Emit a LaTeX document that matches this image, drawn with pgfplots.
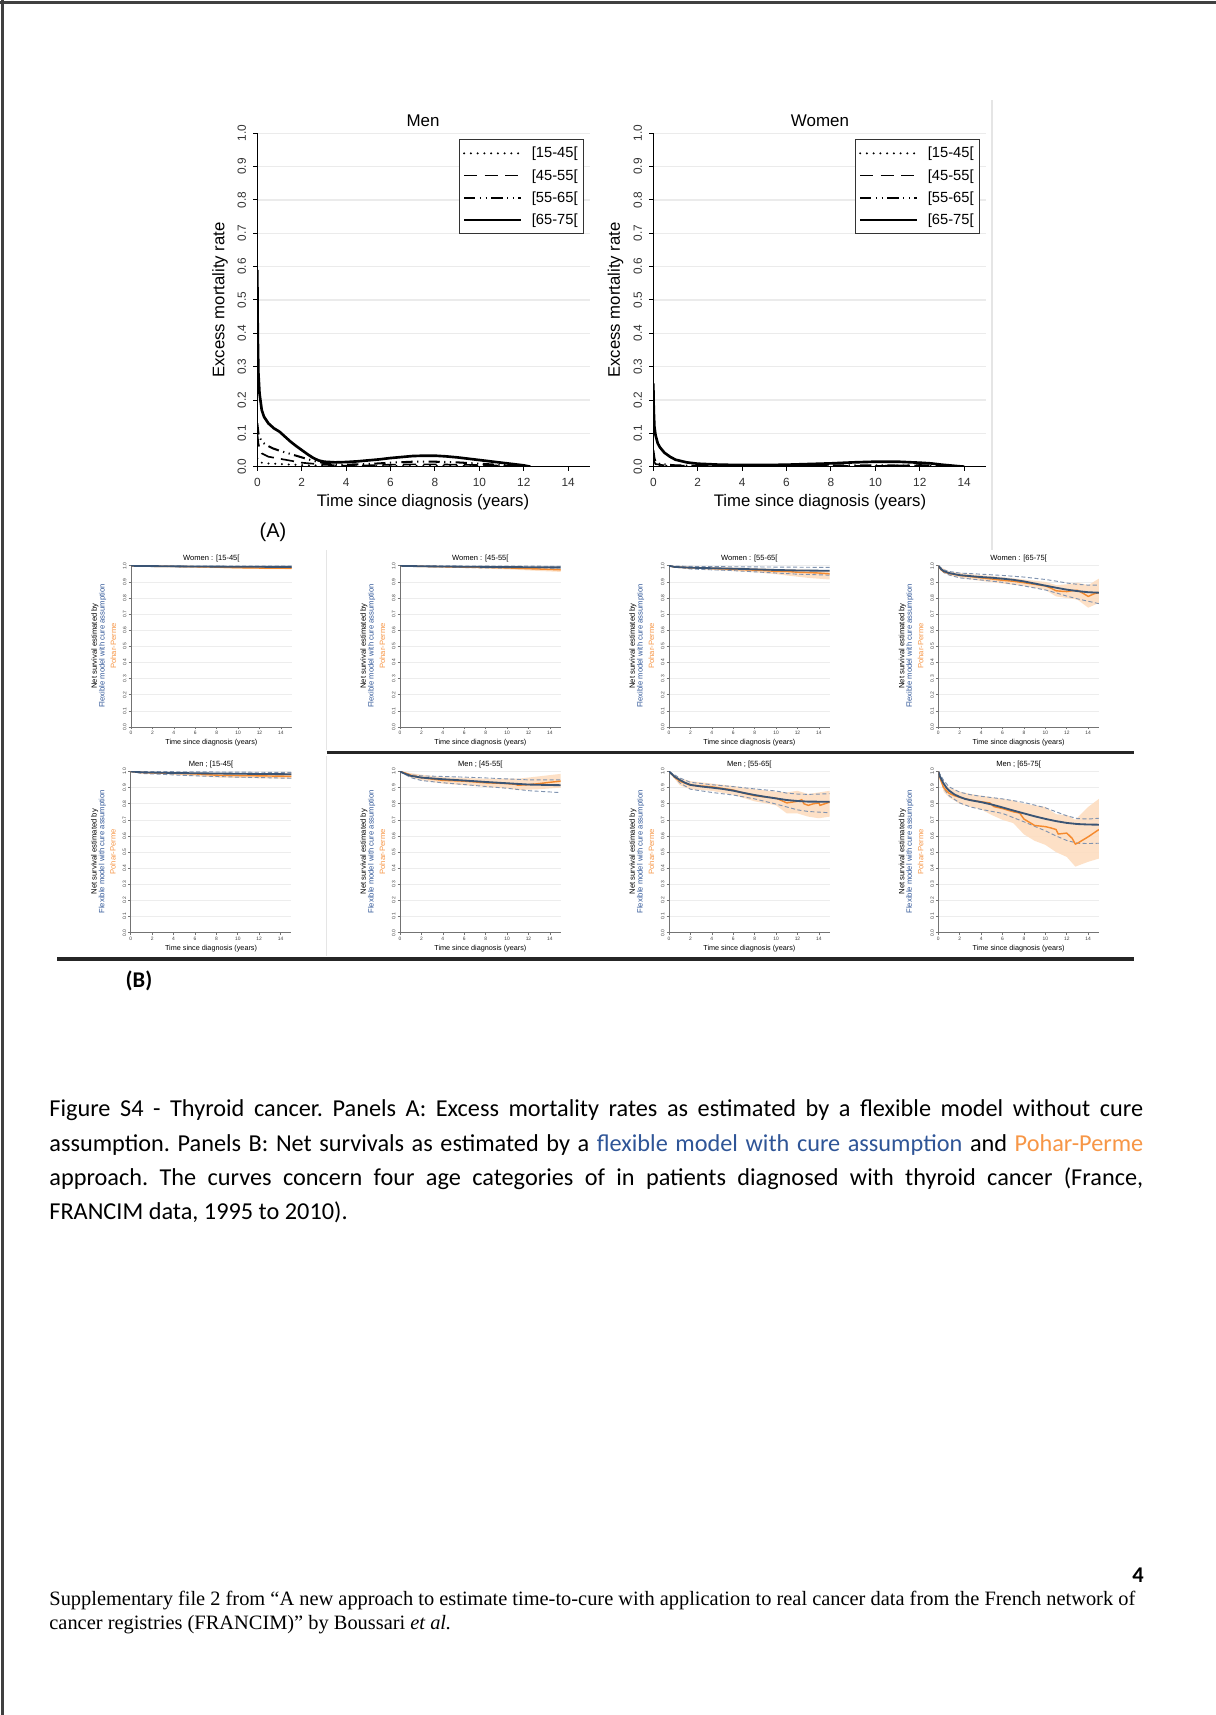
\documentclass[border=0pt]{standalone}
\usepackage{pgfplots}
\pgfplotsset{compat=1.18}
\usepackage{fontspec}
\setmainfont{Carlito}
\newfontfamily\arial{Liberation Sans}
\newfontfamily\tnr{Liberation Serif}
\definecolor{blueL}{HTML}{2F5597}
\definecolor{orangeL}{HTML}{F79646}
\definecolor{pblue}{HTML}{3A5474}
\definecolor{pci}{HTML}{7F93B0}
\definecolor{porange}{HTML}{F58A2E}
\definecolor{pband}{HTML}{FDDDC0}
\newcommand{\fs}[1]{\fontsize{#1}{#1}\selectfont}
\pgfplotsset{
 bigax/.style={scale only axis, width=163.2pt, height=163.4pt,
  xmin=0, xmax=15, ymin=0, ymax=1, no markers,
  axis x line*=bottom, axis y line*=left,
  axis line style={black, line width=0.6pt},
  xtick={0,2,4,6,8,10,12,14},
  ytick={0,0.1,0.2,0.3,0.4,0.5,0.6,0.7,0.8,0.9,1.0},
  ymajorgrids, grid style={black!8, line width=0.6pt},
  tick style={black, line width=0.5pt}, major tick length=2pt, tick align=outside,
  /pgf/number format/assume math mode=true,
  tick label style={font=\arial\fs{5.8}, text=black!80},
  yticklabel style={rotate=90, anchor=south, /pgf/number format/.cd, fixed, fixed zerofill, precision=1},
  legend style={at={(1,1)}, anchor=north east, xshift=-3pt, yshift=-2.8pt,
   draw=black!80, line width=0.5pt, font=\arial\fs{7.2},
   row sep=0.3pt, column sep=3pt, inner sep=1.5pt,
   nodes={inner sep=1.5pt, text height=6pt, text depth=1.6pt}},
  legend cell align=left,
  legend image code/.code={\draw[#1] (0pt,0pt) -- (28pt,0pt);},
 },
 sdot/.style={black, line width=1.1pt, line cap=round, dash pattern=on 0pt off 3.3pt},
 sdash/.style={black, line width=0.8pt, dash pattern=on 6.5pt off 3.5pt},
 sdd/.style={black, line width=1pt, dash pattern=on 5.5pt off 2.2pt on 0.6pt off 2.2pt on 0.6pt off 2.2pt},
 ssol/.style={black, line width=1.3pt},
 smallax/.style={scale only axis, width=78.7pt, height=79pt,
  xmin=0, xmax=15, ymin=0, ymax=1, no markers,
  axis x line*=bottom, axis y line*=left,
  axis line style={black!55, line width=0.35pt},
  xtick={0,2,4,6,8,10,12,14},
  ytick={0,0.1,0.2,0.3,0.4,0.5,0.6,0.7,0.8,0.9,1.0},
  ymajorgrids, grid style={black!7, line width=0.3pt},
  tick style={black!55, line width=0.3pt}, major tick length=1.2pt, tick align=outside,
  /pgf/number format/assume math mode=true,
  tick label style={font=\arial\fs{2.4}, text=black!75, inner sep=0.8pt},
  yticklabel style={rotate=90, anchor=south, /pgf/number format/.cd, fixed, fixed zerofill, precision=1},
 },
 band/.style={fill=pband, draw=none, fill opacity=0.9},
 cil/.style={pci, line width=0.45pt, dash pattern=on 2pt off 1.2pt},
 bl/.style={pblue, line width=0.9pt},
 ol/.style={porange, line width=0.7pt},
}
\newcommand{\smalllabels}[3]{%
 \node[font=\arial\fs{3.7}] at (#1+80.35,#2-168.5) {#3};
 \node[font=\arial\fs{3.55}] at (#1+80.35,#2+15.7) {Time since diagnosis (years)};
 \node[rotate=90, font=\arial\fs{3.75}, text=black] at (#1-36,#2-81) {Net survival estimated by};
 \node[rotate=90, font=\arial\fs{3.75}, text=blueL] at (#1-28.3,#2-81) {Flexible model with cure assumption};
 \node[rotate=90, font=\arial\fs{3.75}, text=orangeL] at (#1-17.7,#2-81) {Pohar-Perme};
}
\begin{document}
\begin{tikzpicture}[x=0.49pt, y=-0.49pt]
\fill[white] (0,0) rectangle (1216,1715);
\path[use as bounding box] (0,0) rectangle (1216,1715);
\draw[black!75, line width=1pt] (2.5,0) -- (2.5,1715);
\draw[black!75, line width=1pt] (0,2.5) -- (1216,2.5);
\draw[black!10, line width=0.6pt] (992,100) -- (992,550);
\coordinate (am) at (257.3,466.7);
\coordinate (aw) at (653.3,466.7);
\coordinate (p1) at (131,727);
\coordinate (p2) at (400,727);
\coordinate (p3) at (669,727);
\coordinate (p4) at (938.3,727);
\coordinate (p5) at (130.7,932.7);
\coordinate (p6) at (400,932.7);
\coordinate (p7) at (669,932.7);
\coordinate (p8) at (938.3,932.7);

% ---------- Panel A: Men
\begin{axis}[bigax, at={(am)}, anchor=south west]
\addplot[sdot] coordinates {(0,0.025) (0.1,0.014) (0.3,0.01) (1,0.008) (2,0.005) (3,0.003) (4,0.002) (6,0.002) (8,0.003) (10,0.003) (12,0.001) (12.3,0)};
\addlegendentry{[15-45[}
\addplot[sdash] coordinates {(0,0.1) (0.05,0.07) (0.1,0.055) (0.2,0.04) (0.5,0.03) (1,0.024) (1.5,0.018) (2,0.012) (3,0.006) (4,0.003) (5,0.004) (6,0.006) (7,0.007) (8,0.007) (9,0.006) (10,0.005) (11,0.003) (12,0.001) (12.3,0)};
\addlegendentry{[45-55[}
\addplot[sdd] coordinates {(0,0.13) (0.05,0.1) (0.1,0.09) (0.2,0.075) (0.4,0.065) (0.7,0.055) (1,0.048) (1.5,0.038) (2,0.028) (2.5,0.018) (3,0.011) (3.5,0.007) (4,0.006) (5,0.008) (6,0.012) (7,0.015) (8,0.015) (9,0.013) (10,0.009) (11,0.005) (12,0.001) (12.3,0)};
\addlegendentry{[55-65[}
\addplot[ssol] coordinates {(0,0.59) (0.02,0.40) (0.05,0.28) (0.1,0.22) (0.2,0.17) (0.3,0.15) (0.5,0.13) (0.75,0.115) (1,0.105) (1.25,0.09) (1.5,0.075) (1.75,0.062) (2,0.05) (2.25,0.038) (2.5,0.027) (2.75,0.019) (3,0.015) (3.5,0.013) (4,0.014) (4.5,0.016) (5,0.019) (5.5,0.022) (6,0.026) (6.5,0.029) (7,0.032) (7.5,0.033) (8,0.033) (8.5,0.031) (9,0.028) (9.5,0.024) (10,0.02) (10.5,0.016) (11,0.012) (11.5,0.008) (12,0.004) (12.3,0)};
\addlegendentry{[65-75[}
\end{axis}

% ---------- Panel A: Women
\begin{axis}[bigax, at={(aw)}, anchor=south west]
\addplot[sdot] coordinates {(0,0.008) (0.2,0.003) (1,0.002) (6,0.001) (14,0)};
\addlegendentry{[15-45[}
\addplot[sdash] coordinates {(0,0.02) (0.1,0.008) (0.5,0.004) (2,0.002) (6,0.002) (10,0.002) (12,0.005) (13,0.004) (14,0)};
\addlegendentry{[45-55[}
\addplot[sdd] coordinates {(0,0.05) (0.05,0.025) (0.1,0.015) (0.3,0.008) (1,0.004) (2,0.003) (4,0.003) (6,0.004) (8,0.004) (10,0.004) (12,0.003) (14,0)};
\addlegendentry{[55-65[}
\addplot[ssol] coordinates {(0,0.25) (0.02,0.17) (0.05,0.12) (0.1,0.095) (0.2,0.07) (0.3,0.058) (0.5,0.042) (0.75,0.03) (1,0.021) (1.5,0.013) (2,0.009) (3,0.006) (4,0.005) (5,0.005) (6,0.006) (7,0.008) (8,0.01) (9,0.013) (10,0.015) (11,0.015) (12,0.012) (12.5,0.01) (13,0.006) (13.5,0.003) (14,0)};
\addlegendentry{[65-75[}
\end{axis}

\node[font=\arial\fs{8.3}] at (423,120.7) {Men};
\node[font=\arial\fs{8.3}] at (820,120.7) {Women};
\node[font=\arial\fs{8.2}, rotate=90] at (220,300) {Excess mortality rate};
\node[font=\arial\fs{8.2}, rotate=90] at (615.5,300) {Excess mortality rate};
\node[font=\arial\fs{8.2}] at (423,501.7) {Time since diagnosis (years)};
\node[font=\arial\fs{8.2}] at (820,501.7) {Time since diagnosis (years)};
\node[font=\arial\fs{9.8}] at (273,532) {(A)};

% ---------- Panel B, row 1 (women)
\begin{axis}[smallax, at={(p1)}, anchor=south west]
\addplot[band] coordinates {(0,1) (5,0.999) (10,0.995) (15,0.993) (15,0.978) (10,0.982) (5,0.99) (0,1)} --cycle;
\addplot[cil] coordinates {(0,1) (5,0.999) (10,0.998) (15,0.998)};
\addplot[cil] coordinates {(0,1) (5,0.993) (10,0.99) (15,0.988)};
\addplot[ol] coordinates {(0,1) (2,0.997) (5,0.995) (8,0.992) (10,0.988) (12,0.986) (15,0.985)};
\addplot[bl] coordinates {(0,1) (2,0.998) (5,0.996) (10,0.994) (15,0.993)};
\end{axis}
\begin{axis}[smallax, at={(p2)}, anchor=south west]
\addplot[band] coordinates {(0,1) (5,0.998) (10,0.994) (12,0.99) (15,0.988) (15,0.962) (13,0.968) (10,0.978) (5,0.988) (0,1)} --cycle;
\addplot[cil] coordinates {(0,1) (5,0.999) (10,0.998) (15,0.997)};
\addplot[cil] coordinates {(0,1) (5,0.99) (10,0.985) (15,0.98)};
\addplot[ol] coordinates {(0,1) (2,0.996) (5,0.993) (8,0.99) (10,0.987) (12,0.982) (13,0.98) (15,0.975)};
\addplot[bl] coordinates {(0,1) (2,0.997) (5,0.995) (10,0.992) (15,0.99)};
\end{axis}
\begin{axis}[smallax, at={(p3)}, anchor=south west]
\addplot[band] coordinates {(0,1) (4,0.992) (8,0.985) (10,0.98) (12,0.978) (15,0.972) (15,0.915) (13,0.925) (11,0.94) (10,0.948) (8,0.96) (4,0.975) (0,1)} --cycle;
\addplot[cil] coordinates {(0,1) (2,0.996) (6,0.994) (10,0.992) (15,0.99)};
\addplot[cil] coordinates {(0,1) (2,0.98) (6,0.97) (10,0.955) (12,0.948) (15,0.942)};
\addplot[ol] coordinates {(0,1) (0.5,0.992) (2,0.987) (4,0.983) (6,0.978) (8,0.973) (9,0.97) (10,0.965) (11,0.965) (12,0.96) (13,0.958) (14,0.955) (15,0.95)};
\addplot[bl] coordinates {(0,1) (0.5,0.993) (2,0.988) (4,0.985) (6,0.982) (8,0.978) (10,0.974) (12,0.971) (15,0.969)};
\end{axis}
\begin{axis}[smallax, at={(p4)}, anchor=south west]
\addplot[band] coordinates {(0,1) (1,0.965) (3,0.948) (6,0.93) (8,0.915) (10,0.9) (11,0.88) (12,0.885) (13,0.895) (14,0.88) (15,0.92) (15,0.77) (14,0.74) (13,0.79) (12,0.8) (11,0.81) (10,0.85) (8,0.875) (6,0.89) (3,0.915) (1,0.94) (0,1)} --cycle;
\addplot[cil] coordinates {(0,1) (0.5,0.975) (1,0.965) (2,0.955) (4,0.948) (6,0.94) (8,0.93) (10,0.915) (11,0.905) (12,0.893) (13,0.885) (14,0.88) (15,0.88)};
\addplot[cil] coordinates {(0,1) (0.5,0.958) (1,0.943) (2,0.925) (4,0.912) (6,0.897) (8,0.875) (10,0.85) (11,0.832) (12,0.812) (13,0.795) (14,0.78) (15,0.765)};
\addplot[ol] coordinates {(0,1) (0.25,0.975) (0.5,0.963) (1,0.952) (2,0.94) (3,0.933) (4,0.925) (5,0.918) (6,0.91) (7,0.904) (8,0.895) (9,0.885) (10,0.875) (10.5,0.862) (11,0.845) (11.5,0.842) (12,0.84) (12.5,0.845) (13,0.848) (13.5,0.83) (14,0.81) (14.5,0.825) (15,0.835)};
\addplot[bl] coordinates {(0,1) (0.25,0.98) (0.5,0.967) (1,0.955) (2,0.942) (3,0.936) (4,0.93) (5,0.926) (6,0.92) (7,0.913) (8,0.903) (9,0.89) (10,0.877) (11,0.864) (12,0.852) (13,0.843) (14,0.836) (15,0.833)};
\end{axis}

% ---------- Panel B, row 2 (men)
\begin{axis}[smallax, at={(p5)}, anchor=south west]
\addplot[band] coordinates {(0,1) (4,0.997) (8,0.99) (12,0.99) (15,0.994) (15,0.955) (12,0.958) (8,0.963) (4,0.98) (0,1)} --cycle;
\addplot[cil] coordinates {(0,1) (3,0.999) (6,0.998) (10,0.996) (15,0.994)};
\addplot[cil] coordinates {(0,1) (1,0.988) (3,0.982) (6,0.973) (10,0.965) (15,0.958)};
\addplot[ol] coordinates {(0,1) (1,0.993) (3,0.99) (6,0.985) (8,0.977) (10,0.975) (12,0.973) (14,0.971) (15,0.97)};
\addplot[bl] coordinates {(0,1) (1,0.995) (3,0.992) (6,0.989) (10,0.986) (15,0.983)};
\end{axis}
\begin{axis}[smallax, at={(p6)}, anchor=south west]
\addplot[band] coordinates {(0,1) (1,0.99) (2,0.98) (4,0.965) (6,0.96) (8,0.955) (10,0.955) (11,0.955) (13,0.97) (15,0.985) (15,0.9) (13,0.89) (11,0.885) (10,0.895) (8,0.905) (6,0.915) (4,0.925) (2,0.945) (1,0.962) (0,1)} --cycle;
\addplot[cil] coordinates {(0,1) (1,0.98) (2,0.973) (4,0.969) (6,0.965) (8,0.96) (10,0.954) (12,0.948) (15,0.948)};
\addplot[cil] coordinates {(0,1) (1,0.962) (2,0.944) (4,0.93) (6,0.919) (8,0.907) (10,0.896) (12,0.881) (15,0.869)};
\addplot[ol] coordinates {(0,1) (0.5,0.99) (1,0.977) (2,0.962) (3,0.953) (4,0.945) (6,0.94) (7,0.935) (8,0.93) (10,0.925) (10.8,0.92) (11,0.915) (12,0.918) (13,0.925) (14,0.933) (15,0.94)};
\addplot[bl] coordinates {(0,1) (0.5,0.985) (1,0.973) (2,0.962) (3,0.957) (4,0.952) (6,0.944) (8,0.935) (10,0.927) (12,0.919) (14,0.916) (15,0.915)};
\end{axis}
\begin{axis}[smallax, at={(p7)}, anchor=south west]
\addplot[band] coordinates {(0,1) (1,0.96) (2,0.94) (4,0.925) (6,0.91) (8,0.89) (10,0.875) (11,0.87) (12,0.88) (13,0.86) (14,0.87) (15,0.88) (15,0.72) (14,0.71) (13,0.72) (12,0.74) (11,0.74) (10,0.79) (8,0.815) (6,0.855) (4,0.88) (2,0.89) (1,0.915) (0,1)} --cycle;
\addplot[cil] coordinates {(0,1) (1,0.96) (2,0.933) (4,0.918) (6,0.906) (8,0.892) (10,0.879) (11,0.866) (12,0.86) (13,0.858) (15,0.862)};
\addplot[cil] coordinates {(0,1) (1,0.93) (2,0.89) (4,0.87) (6,0.854) (8,0.83) (10,0.798) (11,0.78) (12,0.762) (13,0.752) (15,0.744)};
\addplot[ol] coordinates {(0,1) (0.5,0.965) (1,0.94) (2,0.915) (3,0.91) (4,0.905) (5,0.895) (6,0.885) (7,0.865) (8,0.85) (9,0.842) (10,0.835) (10.5,0.82) (11,0.805) (11.5,0.81) (12,0.815) (12.4,0.825) (12.6,0.8) (13,0.79) (13.5,0.8) (14,0.805) (14.1,0.79) (15,0.81)};
\addplot[bl] coordinates {(0,1) (0.25,0.985) (0.5,0.969) (1,0.948) (1.5,0.93) (2,0.917) (3,0.907) (4,0.9) (5,0.892) (6,0.881) (7,0.867) (8,0.854) (9,0.843) (10,0.833) (11,0.823) (12,0.817) (13,0.813) (15,0.8125)};
\end{axis}
\begin{axis}[smallax, at={(p8)}, anchor=south west]
\addplot[band] coordinates {(0,1) (0.5,0.93) (1,0.9) (2,0.875) (3,0.86) (4,0.85) (5,0.84) (6,0.83) (7,0.82) (8,0.8) (9,0.79) (10,0.78) (11,0.735) (12,0.73) (12.8,0.7) (14,0.78) (15,0.83) (15,0.46) (14,0.44) (12.8,0.41) (12,0.47) (11,0.5) (10,0.545) (9,0.57) (8,0.61) (7,0.68) (6,0.7) (5,0.73) (4,0.765) (3,0.78) (2,0.8) (1,0.84) (0.5,0.875) (0,1)} --cycle;
\addplot[cil] coordinates {(0,1) (0.5,0.945) (1,0.905) (2,0.872) (3,0.856) (4,0.846) (6,0.83) (8,0.808) (10,0.775) (11,0.75) (12,0.725) (13,0.708) (14,0.705) (15,0.71)};
\addplot[cil] coordinates {(0,1) (0.5,0.895) (1,0.85) (2,0.805) (3,0.78) (4,0.765) (6,0.74) (8,0.688) (10,0.632) (11,0.6) (12,0.572) (13,0.555) (14,0.553) (15,0.555)};
\addplot[ol] coordinates {(0,1) (0.2,0.95) (0.5,0.9) (1,0.865) (1.5,0.85) (2,0.84) (3,0.823) (4,0.812) (4.8,0.805) (5.2,0.782) (6,0.77) (7,0.75) (7.6,0.742) (8,0.705) (8.5,0.685) (9,0.665) (10,0.658) (10.5,0.65) (11,0.64) (11.2,0.612) (12,0.618) (12.5,0.585) (12.8,0.55) (13,0.555) (14,0.595) (15,0.64)};
\addplot[bl] coordinates {(0,1) (0.15,0.97) (0.3,0.95) (0.5,0.925) (0.75,0.9) (1,0.882) (1.5,0.858) (2,0.842) (2.5,0.83) (3,0.822) (4,0.81) (5,0.795) (6,0.777) (7,0.758) (8,0.74) (9,0.722) (10,0.706) (11,0.692) (12,0.681) (13,0.674) (14,0.671) (15,0.67)};
\end{axis}

\smalllabels{131}{727}{Women : [15-45[}
\smalllabels{400}{727}{Women : [45-55[}
\smalllabels{669}{727}{Women : [55-65[}
\smalllabels{938.3}{727}{Women : [65-75[}
\smalllabels{130.7}{932.7}{Men ; [15-45[}
\smalllabels{400}{932.7}{Men ; [45-55[}
\smalllabels{669}{932.7}{Men ; [55-65[}
\smalllabels{938.3}{932.7}{Men ; [65-75[}

\draw[black!10, line width=0.5pt] (326.7,550) -- (326.7,750);
\draw[black!10, line width=0.5pt] (326.7,756) -- (326.7,956);
\draw[black!85, line width=1.5pt] (326.7,752.5) -- (1134,752.5);
\draw[black!85, line width=1.5pt] (57,959) -- (1134,959);
\node[font=\bfseries\fs{11}] at (139,981) {(B)};

% ---------- caption
\node[anchor=base west, inner sep=0pt, font=\fs{11.9}\frenchspacing] at (49,1116) {\makebox[536pt][s]{Figure S4 - Thyroid cancer. Panels A: Excess mortality rates as estimated by a flexible model without cure}};
\node[anchor=base west, inner sep=0pt, font=\fs{11.9}\frenchspacing] at (49,1151) {\makebox[536pt][s]{assumption. Panels B: Net survivals as estimated by a \textcolor{blueL}{flexible model with cure assumption} and \textcolor{orangeL}{Pohar-Perme}}};
\node[anchor=base west, inner sep=0pt, font=\fs{11.9}\frenchspacing] at (49,1185) {\makebox[536pt][s]{approach. The curves concern four age categories of in patients diagnosed with thyroid cancer (France,}};
\node[anchor=base west, inner sep=0pt, font=\fs{11.9}\frenchspacing] at (49,1219) {FRANCIM data, 1995 to 2010).};

% ---------- footer
\node[font=\bfseries\fs{11}] at (1138,1575) {4};
\node[anchor=base west, inner sep=0pt, font=\tnr\fs{10}] at (49,1605) {Supplementary file 2 from “A new approach to estimate time-to-cure with application to real cancer data from the French network of};
\node[anchor=base west, inner sep=0pt, font=\tnr\fs{10}] at (49,1629) {cancer registries (FRANCIM)” by Boussari \textit{et al.}};
\end{tikzpicture}
\end{document}
